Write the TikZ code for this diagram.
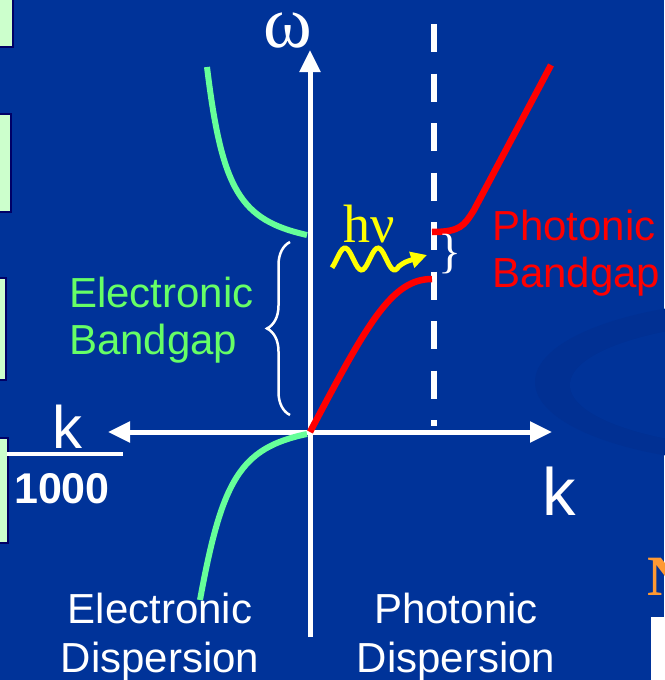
\documentclass[tikz,border=0pt]{standalone}
\usepackage{fontspec}
\setmainfont{Liberation Sans}
\newfontfamily\serifgreek{Liberation Serif}
\usetikzlibrary{arrows.meta,decorations.pathreplacing}
\definecolor{bgBlue}{HTML}{003399}
\definecolor{bgShade}{HTML}{013093}
\definecolor{eleGreen}{HTML}{66FF99}
\definecolor{eleText}{HTML}{66FF66}
\definecolor{phoRed}{HTML}{FF0000}
\definecolor{photonYellow}{HTML}{FFFF00}
\definecolor{tabFill}{HTML}{CCFFCC}
\definecolor{tabEdge}{HTML}{000066}
\definecolor{titleOrange}{HTML}{FF9933}
\tikzset{
  disp axis/.style={draw=white, line width=5pt},
  disp gap/.style={draw=white, line width=6.5pt, dash pattern=on 28pt off 21.5pt},
  ele curve/.style={draw=eleGreen, line width=6pt},
  pho curve/.style={draw=phoRed, line width=6.5pt},
  photon/.style={draw=photonYellow, line width=5pt, -{Triangle[length=16pt,width=16pt]}},
  side tab/.style={fill=tabFill, draw=tabEdge, line width=2pt},
  disp label/.style={font=\fontsize{42}{49}\selectfont, text=white, inner sep=0pt, align=center},
  gap label/.style={font=\fontsize{42}{47}\selectfont, inner sep=0pt, align=left},
}

\begin{document}
\begin{tikzpicture}[x=1pt, y=-1pt]
  \useasboundingbox (0,0) rectangle (664,680);
  % Slide background with its faint swoosh
  \fill[bgBlue] (0,0) rectangle (664,680);
  \fill[bgShade] (770,382) ellipse [x radius=235, y radius=82];
  \fill[bgBlue] (782,385) ellipse [x radius=212, y radius=64];
  % Tabs on the left edge, white box and title letter on the right edge
  \draw[side tab] (-5,-5) rectangle (13,47);
  \draw[side tab] (-5,114) rectangle (11,212);
  \draw[side tab] (-5,278) rectangle (6,380);
  \draw[side tab] (-5,438) rectangle (7.5,543);
  \fill[white] (651,617) rectangle (670,690);
  \node[anchor=base west, inner sep=0pt, text=titleOrange,
        font=\serifgreek\bfseries\fontsize{57}{57}\selectfont] (title) at (647,595) {N};

  % Axes
  \coordinate (origin) at (310,432);
  \coordinate (wbot) at (310,637);
  \coordinate (wtop) at (310,50);
  \coordinate (kleft) at (108,432);
  \coordinate (kright) at (552,432);
  \draw[disp axis, -{Triangle[length=22pt,width=20pt]}] (wbot) -- (wtop);
  \draw[disp axis, {Triangle[length=22pt,width=20pt]}-{Triangle[length=22pt,width=20pt]}] (kleft) -- (kright);
  \node[anchor=base, inner sep=0pt, text height=35pt, text=white,
        font=\serifgreek\fontsize{74}{74}\selectfont] (omega) at (288,47) {ω};
  \node[anchor=base, inner sep=0pt, text=white, font=\fontsize{67}{67}\selectfont] (kright lbl) at (559,515) {k};
  % k over 1000
  \node[anchor=base, inner sep=0pt, text=white, font=\fontsize{60}{60}\selectfont] (kleft lbl) at (67,448) {k};
  \node[anchor=base, inner sep=0pt, text=white, font=\bfseries\fontsize{43}{43}\selectfont] (thousand) at (62,503) {1000};
  \draw[white, line width=4.5pt] (7,454) -- (123,454);

  % Zone boundary
  \coordinate (zbtop) at (434,24);
  \coordinate (zbbot) at (434,426);
  \draw[disp gap] (zbtop) -- (zbbot);

  % Electronic bands
  \draw[ele curve] (207,67) .. controls (222,190) and (240,220) .. (307,235);
  \draw[ele curve] (307,434) .. controls (240,448) and (222,480) .. (200,600);
  % Photonic bands
  \draw[pho curve] (origin) .. controls (368,322) and (392,279) .. (432,279);
  \draw[pho curve] (432,232) .. controls (460,232) and (464,226) .. (474,210) -- (551,65);

  % Gaps
  \draw[white, line width=2.5pt, decorate, decoration={brace, amplitude=23pt}] (290,415) -- (290,242);
  \node[inner sep=0pt, text=white, font=\serifgreek\fontsize{48}{48}\selectfont] (pgap brace) at (450,254) {\}};

  % Photon
  \draw[photon] plot[domain=332:399, samples=40] (\x, {259-11*cos(10.909*(\x-345))})
    .. controls (405,262) .. (427,255);
  \node[anchor=base, inner sep=0pt, text=photonYellow, font=\serifgreek\fontsize{54}{54}\selectfont] (hnu) at (369,242) {hν};

  % Labels
  \node[gap label, text=eleText, anchor=north west] (egap) at (69,277) {Electronic\\Bandgap};
  \node[gap label, text=phoRed, anchor=north west] (pgap) at (492,210) {Photonic\\Bandgap};
  \node[disp label, anchor=north] (edisp) at (160,593) {Electronic\\Dispersion};
  \node[disp label, anchor=north] (pdisp) at (456,593) {Photonic\\Dispersion};
\end{tikzpicture}
\end{document}
